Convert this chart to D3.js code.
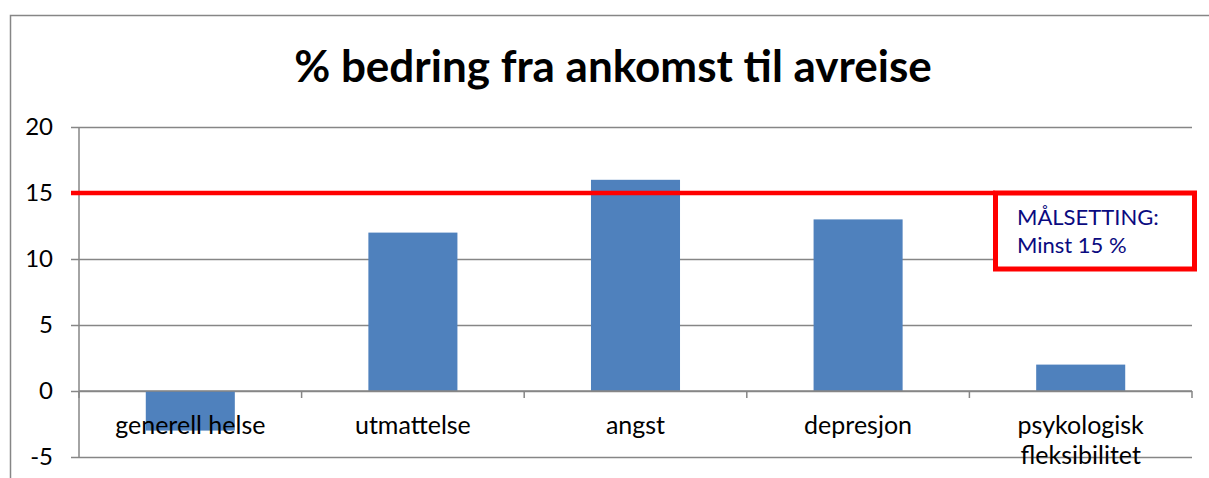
<!DOCTYPE html>
<html><head><meta charset="utf-8">
<script src="https://cdn.jsdelivr.net/npm/d3@7"></script>
<style>html,body{margin:0;padding:0;background:#fff;overflow:hidden}</style>
</head><body>
<svg id="c" width="1209" height="478"></svg>
<script>
const categories = ["generell helse", "utmattelse", "angst", "depresjon", "psykologisk fleksibilitet"];
const labelLines = [["generell helse"], ["utmattelse"], ["angst"], ["depresjon"], ["psykologisk", "fleksibilitet"]];
const values = [-3, 12, 16, 13, 2];
const yTicks = [-5, 0, 5, 10, 15, 20];
const target = 15;
const title = "% bedring fra ankomst til avreise";
const noteLines = ["MÅLSETTING:", "Minst 15 %"];

const svg = d3.select("#c");
const font = "Lato, 'Open Sans', sans-serif";
const grey = "#868686";

// outer frame
svg.append("path").attr("d", "M10.5,478 L10.5,15.5 L1215,15.5")
  .attr("fill", "none").attr("stroke", grey).attr("stroke-width", 1.5);

const x = d3.scaleBand().domain(categories).range([79, 1192]).paddingInner(0.6).paddingOuter(0.3);
const y = d3.scaleLinear().domain([-5, 20]).range([457, 127]);

// title
svg.append("text").attr("x", 613).attr("y", 82).attr("text-anchor", "middle")
  .attr("font-family", font).attr("font-weight", "bold").attr("font-size", 44).attr("fill", "#000")
  .text(title);

// gridlines + y axis
const yAxis = d3.axisLeft(y).tickValues(yTicks).tickSize(8).tickPadding(18).tickFormat(d => String(d));
const gy = svg.append("g").attr("transform", "translate(79,0)").call(yAxis);
gy.selectAll(".tick line").attr("stroke", grey).attr("stroke-width", 1.5);
gy.selectAll(".tick text").attr("font-family", font).attr("font-size", 24).attr("fill", "#000");
gy.selectAll(".tick").append("line").attr("x1", 0).attr("x2", 1192 - 79)
  .attr("stroke", grey).attr("stroke-width", 1.5);
gy.select(".domain").remove();
svg.append("line").attr("x1", 79).attr("x2", 79).attr("y1", y(20)).attr("y2", y(-5))
  .attr("stroke", grey).attr("stroke-width", 1.5);

// bars
svg.append("g").selectAll("rect").data(values).join("rect")
  .attr("x", (d, i) => x(categories[i]))
  .attr("width", x.bandwidth())
  .attr("y", d => y(Math.max(0, d)))
  .attr("height", d => Math.abs(y(d) - y(0)))
  .attr("fill", "#4F81BD");

// x axis at zero: boundary ticks
const step = x.step();
const bounds = d3.range(categories.length + 1).map(i => 79 + i * step);
svg.append("line").attr("x1", 79).attr("x2", 1192).attr("y1", y(0)).attr("y2", y(0))
  .attr("stroke", grey).attr("stroke-width", 1.5);
svg.append("g").selectAll("line").data(bounds).join("line")
  .attr("x1", d => d).attr("x2", d => d).attr("y1", y(0)).attr("y2", y(0) + 7)
  .attr("stroke", grey).attr("stroke-width", 1.5);

// category labels
const lbl = svg.append("g").selectAll("text").data(categories).join("text")
  .attr("x", d => x(d) + x.bandwidth() / 2).attr("y", 434)
  .attr("text-anchor", "middle").attr("font-family", font).attr("font-size", 25).attr("fill", "#000");
lbl.each(function(d, i) {
  d3.select(this).selectAll("tspan").data(labelLines[i]).join("tspan")
    .attr("x", x(d) + x.bandwidth() / 2).attr("dy", (t, j) => j === 0 ? 0 : 30).text(t => t);
});

// target line
svg.append("line").attr("x1", 71).attr("x2", 995).attr("y1", y(target)).attr("y2", y(target))
  .attr("stroke", "#FF0000").attr("stroke-width", 4.5);

// note box
svg.append("rect").attr("x", 995.5).attr("y", y(target)).attr("width", 199).attr("height", 76)
  .attr("fill", "#fff").attr("stroke", "#FF0000").attr("stroke-width", 5);
svg.append("g").selectAll("text").data(noteLines).join("text")
  .attr("x", 1017).attr("y", (d, i) => 225 + i * 28)
  .attr("font-family", font).attr("font-size", 22).attr("fill", "#0A0A80").text(d => d);
</script>
</body></html>
